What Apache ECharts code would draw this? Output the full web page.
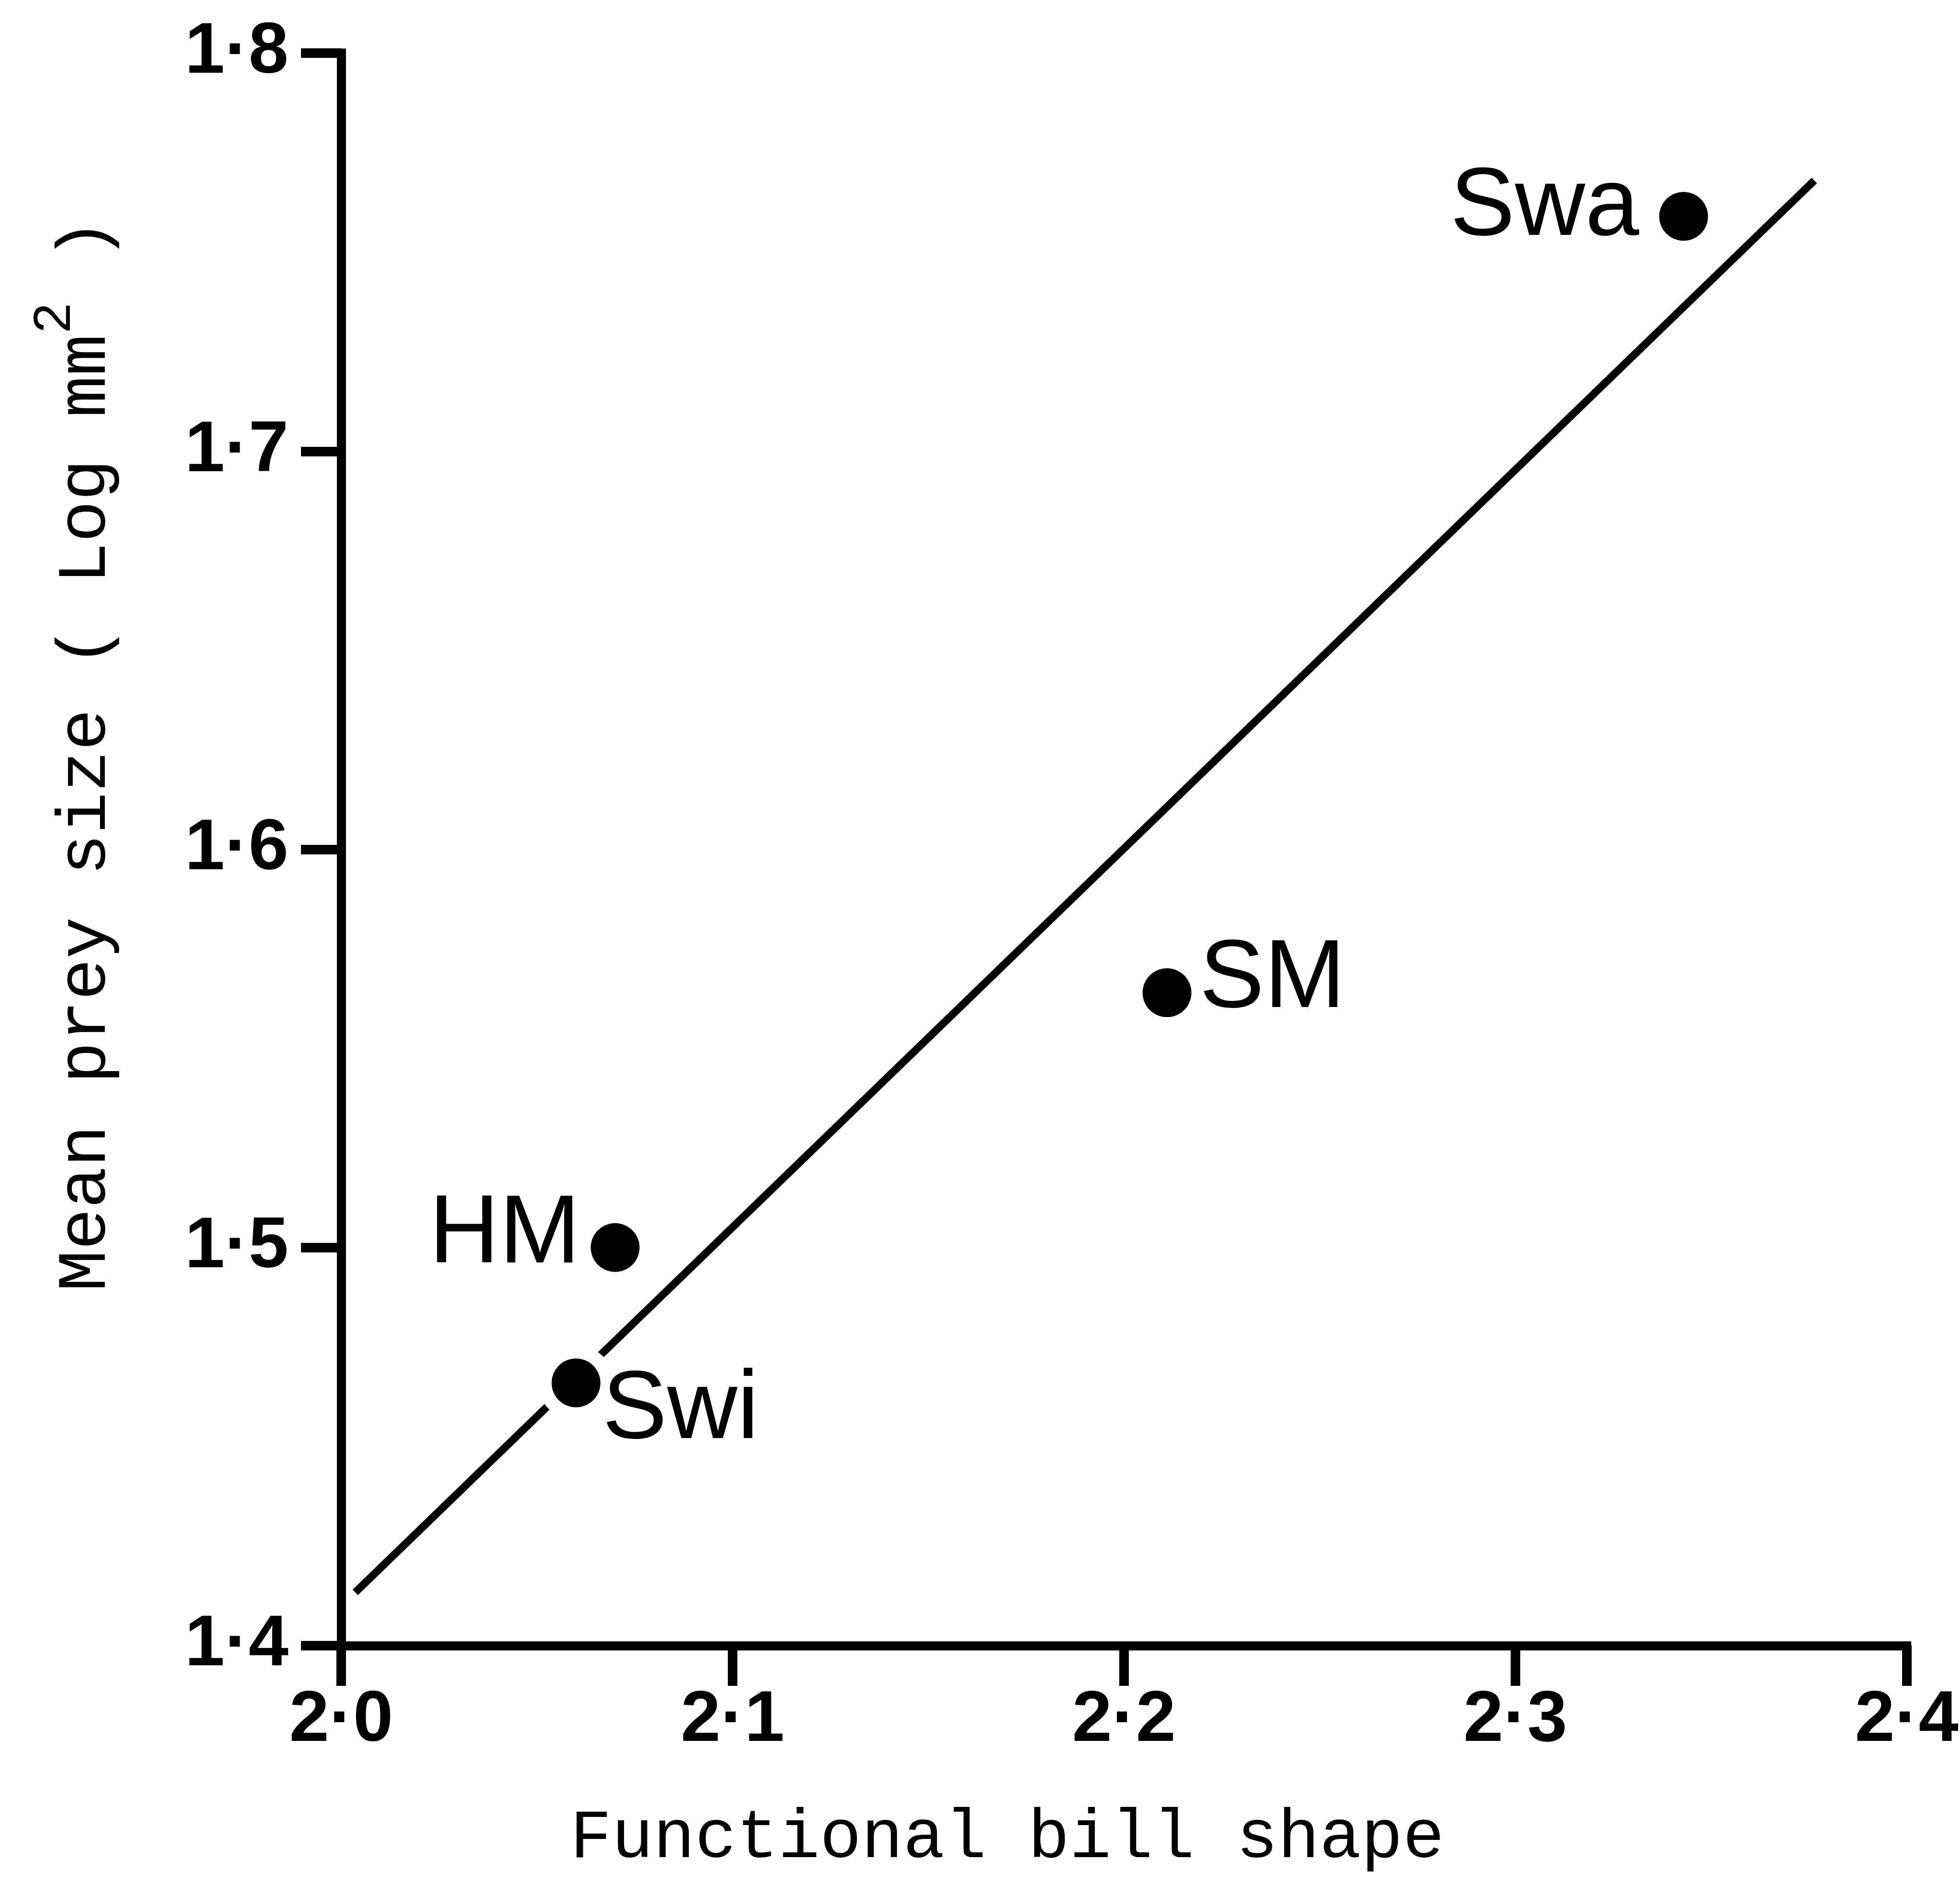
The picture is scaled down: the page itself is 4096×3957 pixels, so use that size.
<!DOCTYPE html>
<html>
<head>
<meta charset="utf-8">
<script src="https://cdn.jsdelivr.net/npm/echarts@6/dist/echarts.min.js"></script>
<style>
html,body{margin:0;padding:0;background:#fff;}
#chart{width:4096px;height:3957px;}
</style>
</head>
<body>
<div id="chart"></div>
<script>
// ---- data ----
const xTickLabels = ['2·0', '2·1', '2·2', '2·3', '2·4'];
const yTickLabels = ['1·4', '1·5', '1·6', '1·7', '1·8'];
const species = ['Swa', 'SM', 'HM', 'Swi'];
const billShape = [2.343, 2.211, 2.070, 2.060];
const preySize = [1.759, 1.564, 1.500, 1.466];
const fitX = [2.0036, 2.3764];
const fitY = [1.4134, 1.768];

// ---- label placement (style, not data) ----
const labelPlace = {
  Swa: { position: 'left', distance: 42, offset: [0, -17] },
  SM: { position: 'right', distance: 17, offset: [0, -26] },
  HM: { position: 'left', distance: 22, offset: [0, -25] },
  Swi: { position: 'right', distance: 4, offset: [0, 59] }
};

const points = species.map((n, i) => ({
  name: n,
  value: [billShape[i], preySize[i]],
  label: Object.assign({ show: true, formatter: '{b}', color: '#000' }, labelPlace[n])
}));
const halo = species.map((n, i) => [billShape[i], preySize[i]]);
const fitLine = fitX.map((x, i) => [x, fitY[i]]);

const chart = echarts.init(document.getElementById('chart'), null, { renderer: 'canvas' });
const axisColor = '#000';
const option = {
  backgroundColor: '#fff',
  animation: false,
  grid: { left: 713, right: 110, top: 111, bottom: 517, containLabel: false },
  xAxis: {
    type: 'value', min: 2.0, max: 2.4, interval: 0.1,
    axisLine: { onZero: false, lineStyle: { color: axisColor, width: 19, cap: 'square' } },
    axisTick: { length: 84, lineStyle: { color: axisColor, width: 20 } },
    splitLine: { show: false },
    axisLabel: {
      margin: 83, color: '#000', fontSize: 150, fontWeight: 'bold',
      fontFamily: 'Liberation Sans',
      formatter: (v, i) => xTickLabels[i]
    },
    name: 'Functional bill shape',
    nameLocation: 'middle',
    nameGap: 331,
    nameTextStyle: {
      fontFamily: 'Liberation Mono', fontSize: 145, color: '#000',
      padding: [0, 488, 0, 0]
    }
  },
  yAxis: {
    type: 'value', min: 1.4, max: 1.8, interval: 0.1,
    axisLine: { onZero: false, lineStyle: { color: axisColor, width: 19, cap: 'square' } },
    axisTick: { length: 84, lineStyle: { color: axisColor, width: 20 } },
    splitLine: { show: false },
    axisLabel: {
      margin: 110, color: '#000', fontSize: 150, fontWeight: 'bold',
      fontFamily: 'Liberation Sans',
      formatter: (v, i) => yTickLabels[i]
    },
    name: '{n|Mean prey size ( Log mm}{s|2}{n| )}',
    nameLocation: 'middle',
    nameGap: 460,
    nameTextStyle: {
      color: '#000',
      padding: [0, 0, 0, 394],
      rich: {
        n: { fontFamily: 'Liberation Mono', fontSize: 145, color: '#000', verticalAlign: 'bottom' },
        s: { fontFamily: 'Liberation Mono', fontSize: 113, color: '#000', verticalAlign: 'top', padding: [0, 0, 80, 0] }
      }
    }
  },
  series: [
    {
      type: 'line', data: fitLine, symbol: 'none', silent: true, z: 2,
      lineStyle: { color: '#000', width: 16, opacity: 1 }
    },
    {
      type: 'scatter', data: halo, symbol: 'circle', symbolSize: 158, silent: true, z: 3,
      itemStyle: { color: '#fff', opacity: 1 }
    },
    {
      type: 'scatter', data: points, symbol: 'circle', symbolSize: 102, z: 4,
      itemStyle: { color: '#000', opacity: 1 },
      label: {
        show: true, color: '#000', fontFamily: 'Liberation Sans', fontSize: 203
      }
    }
  ]
};
chart.setOption(option);
</script>
</body>
</html>
